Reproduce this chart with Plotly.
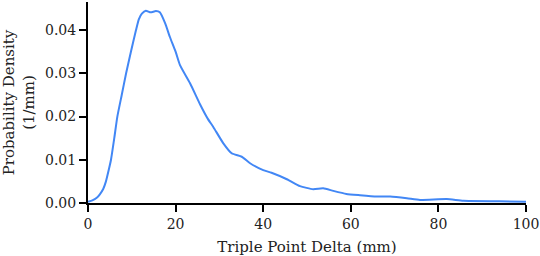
import plotly.graph_objects as go

# Data
delta_mm = [0, 1, 2, 2.7, 3.5, 4.1, 4.7, 5.25, 6.0, 6.7, 7.7, 8.7, 9.8, 10.96, 11.6,
            12.3, 13.2, 14.3, 15.5, 16.4, 17.6, 18.7, 20, 21, 23.3, 25.6, 27.4, 28.6,
            30.9, 32.8, 35.1, 37, 40, 41.9, 45.4, 48.4, 51.4, 53.7, 56, 59, 62.1,
            65.9, 69, 72.8, 75.8, 81.9, 85.7, 93.9, 100]
density = [0.0003, 0.0006, 0.0012, 0.002, 0.0033, 0.005, 0.0075, 0.010, 0.015, 0.020,
           0.025, 0.030, 0.035, 0.040, 0.0425, 0.0438, 0.0445, 0.0441, 0.0444, 0.0441,
           0.0416, 0.0384, 0.035, 0.0319, 0.0277, 0.0228, 0.0194, 0.0176, 0.0138,
           0.0115, 0.0107, 0.0092, 0.0076, 0.0070, 0.0055, 0.0039, 0.0032, 0.0034,
           0.0028, 0.0021, 0.0018, 0.0015, 0.0015, 0.0011, 0.0007, 0.0009, 0.0005,
           0.0004, 0.0003]

x_ticks = [0, 20, 40, 60, 80, 100]
y_ticks = [0.00, 0.01, 0.02, 0.03, 0.04]
y_tick_labels = ["0.00", "0.01", "0.02", "0.03", "0.04"]

font = dict(family="DejaVu Serif", size=12.5, color="#222222")

fig = go.Figure(go.Scatter(x=delta_mm, y=density, mode="lines",
                           line=dict(color="#4287f5", width=2, shape="spline", smoothing=0.5),
                           showlegend=False))

fig.update_layout(
    width=540, height=256,
    margin=dict(l=88, r=14, t=2, b=53),
    paper_bgcolor="white", plot_bgcolor="white",
    font=font,
    xaxis=dict(range=[0, 100], tickvals=x_ticks, showgrid=False, zeroline=False,
               showline=True, linecolor="black", linewidth=2,
               ticks="outside", ticklen=7, tickwidth=1.5, tickcolor="black",
               tickfont=dict(size=14),
               title=dict(text="Triple Point Delta (mm)", standoff=12),
               automargin=False),
    yaxis=dict(range=[0, 0.0465], tickvals=y_ticks, ticktext=y_tick_labels,
               showgrid=False, zeroline=False,
               showline=True, linecolor="black", linewidth=2,
               ticks="outside", ticklen=7, tickwidth=1.5, tickcolor="black",
               tickfont=dict(size=14),
               title=dict(text="Probability Density<br>(1/mm)", standoff=11),
               automargin=False),
)

fig.write_html("out.html", config={"displayModeBar": False},
               post_script="document.body.style.margin='0';document.body.style.padding='0';"
                           "document.body.style.overflow='hidden';")
